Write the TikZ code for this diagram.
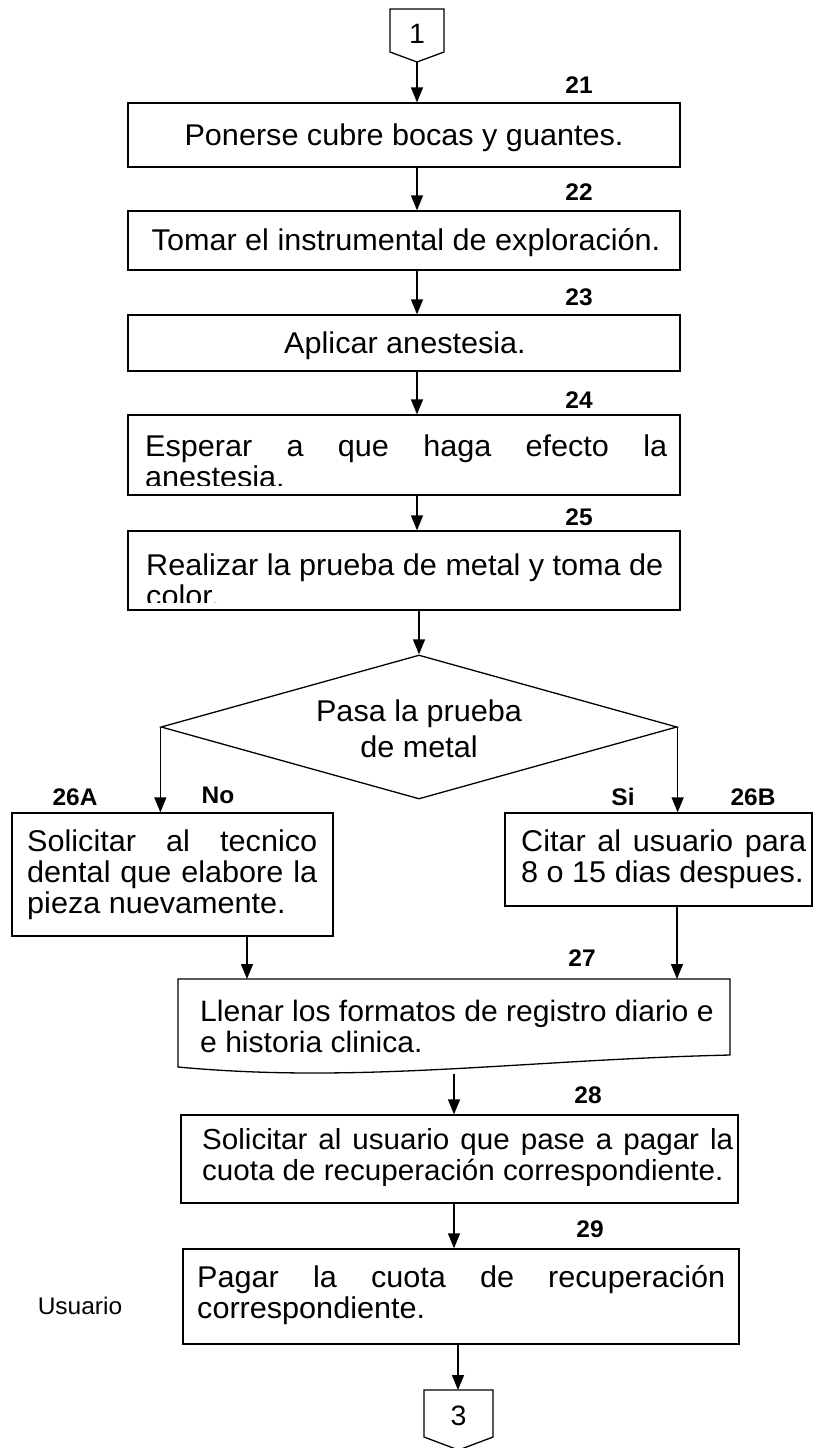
\documentclass[tikz,border=0pt]{standalone}
\usepackage{fontspec}
\setmainfont{Liberation Sans}[FakeStretch=1.02]
\usetikzlibrary{arrows.meta,shapes.geometric,calc}
\begin{document}
\begin{tikzpicture}[x=1pt,y=-1pt,
  box/.style={draw, line width=1.3pt, rectangle, inner sep=0pt},
  txt/.style={inner sep=0pt, font=\fontsize{30}{31}\selectfont, align=left, anchor=base west},
  ctxt/.style={inner sep=0pt, font=\fontsize{30}{31}\selectfont, anchor=base},
  num/.style={inner sep=0pt, font=\fontsize{24}{26}\selectfont\bfseries, anchor=base},
  conn/.style={inner sep=0pt, font=\fontsize{28}{30}\selectfont, anchor=base},
  arr/.style={line width=1.3pt, -{Triangle[width=12pt,length=15pt]}},
  ln/.style={line width=1.3pt, line join=miter}]
\useasboundingbox[fill=white] (0,0) rectangle (813,1448);

% off-page connector 1
\draw[ln] (390,9) -- (444,9) -- (444,52) -- (417,62) -- (390,52) -- cycle;
\coordinate (c1tip) at (417,62);
\node[conn] (c1) at (417,43) {1};

% process boxes
\node[box, minimum width=552pt, minimum height=64pt] (b21) at (404,135) {};
\node[box, minimum width=552pt, minimum height=59pt] (b22) at (404,240.5) {};
\node[box, minimum width=552pt, minimum height=56pt] (b23) at (404,343) {};
\node[box, minimum width=552pt, minimum height=80pt] (b24) at (404,455) {};
\node[box, minimum width=552pt, minimum height=79pt] (b25) at (404,570.5) {};
\node[diamond, draw, line width=1.3pt, inner sep=0pt, minimum width=516pt, minimum height=144pt] (d) at (419,727) {};
\node[box, minimum width=321pt, minimum height=123pt] (b26a) at (172.5,874.5) {};
\node[box, minimum width=307pt, minimum height=93pt] (b26b) at (658.5,859.5) {};
\node[box, minimum width=557pt, minimum height=88pt] (b28) at (459.5,1159) {};
\node[box, minimum width=556pt, minimum height=95pt] (b29) at (461,1296.5) {};

% document shape 27
\draw[ln] (178,979) -- (730,979) -- (730,1055)
  .. controls (520,1060) and (360,1084) .. (178,1067) -- cycle;
\coordinate (b27l) at (247,979);
\coordinate (b27r) at (677,979);
\coordinate (b27out) at (454,1074);

% off-page connector 3
\draw[ln] (424,1390) -- (493,1390) -- (493,1437) -- (458.5,1450) -- (424,1437) -- cycle;
\coordinate (c3top) at (458,1390);
\node[conn] (c3) at (458.5,1425) {3};

% texts (base anchor = baseline of the last line)
\node[ctxt] (t21) at (404,145) {Ponerse cubre bocas y guantes.};
\node[ctxt] (t22) at (406,250) {Tomar el instrumental de exploración.};
\node[ctxt] (t23) at (405,353) {Aplicar anestesia.};
\begin{scope}
  \clip (129,416) rectangle (679,485);
  \node[txt] (t24) at (145,487) {\makebox[522pt][s]{Esperar a que haga efecto la}\\anestesia.};
\end{scope}
\begin{scope}
  \clip (129,531) rectangle (679,602);
  \node[txt] (t25) at (146,606) {Realizar la prueba de metal y toma de\\color.};
\end{scope}
\node[txt, align=center, anchor=base, font=\fontsize{30}{36}\selectfont] (td) at (419,757) {Pasa la prueba\\de metal};
\node[txt] (t26a) at (27,913) {\makebox[290pt][s]{Solicitar al tecnico}\\\makebox[290pt][s]{dental que elabore la}\\pieza nuevamente.};
\node[txt] (t26b) at (521,882) {\makebox[285pt][s]{Citar al usuario para}\\8 o 15 dias despues.};
\node[txt, font=\fontsize{29.5}{31}\selectfont] (t27) at (200,1052) {Llenar los formatos de registro diario e\\e historia clinica.};
\node[txt, font=\fontsize{29}{31}\selectfont] (t28) at (202,1180) {\makebox[531pt][s]{Solicitar al usuario que pase a pagar la}\\cuota de recuperación correspondiente.};
\node[txt] (t29) at (197,1318) {\makebox[528pt][s]{Pagar la cuota de recuperación}\\correspondiente.};

% labels
\node[num] (n21) at (579,93) {21};
\node[num] (n22) at (579,200) {22};
\node[num] (n23) at (579,305) {23};
\node[num] (n24) at (579,408) {24};
\node[num] (n25) at (579,525) {25};
\node[num] (n26a) at (75,805) {26A};
\node[num] (nno) at (218,803) {No};
\node[num] (nsi) at (623,805) {Si};
\node[num] (n26b) at (753,805) {26B};
\node[num] (n27) at (582,966) {27};
\node[num] (n28) at (588,1103) {28};
\node[num] (n29) at (590,1237) {29};
\node[inner sep=0pt, anchor=base, font=\fontsize{24}{26}\selectfont] (usr) at (80,1314) {Usuario};

% connectors
\draw[arr] (c1tip) -- (c1tip |- b21.north);
\draw[arr] (b21.south -| c1tip) -- (c1tip |- b22.north);
\draw[arr] (b22.south -| c1tip) -- (c1tip |- b23.north);
\draw[arr] (b23.south -| c1tip) -- (c1tip |- b24.north);
\draw[arr] (b24.south -| c1tip) -- (c1tip |- b25.north);
\draw[arr] (b25.south -| d.north) -- (d.north);
\draw[arr] (d.west) -- (d.west |- b26a.north);
\draw[arr] (d.east) -- (d.east |- b26b.north);
\draw[arr] (b26a.south -| b27l) -- (b27l);
\draw[arr] (b26b.south -| b27r) -- (b27r);
\draw[arr] (b27out) -- (b27out |- b28.north);
\draw[arr] (b28.south -| b27out) -- (b27out |- b29.north);
\draw[arr] (b29.south -| c3top) -- (c3top);
\end{tikzpicture}
\end{document}
